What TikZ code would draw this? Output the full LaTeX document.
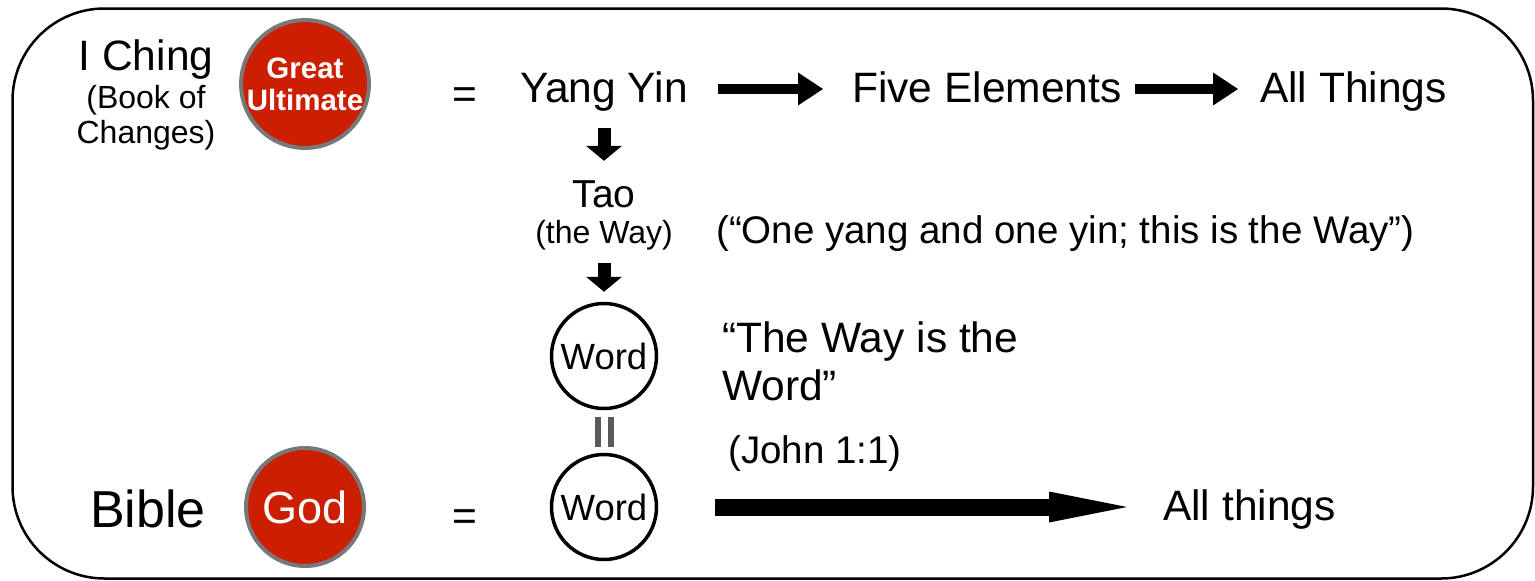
\documentclass[tikz,border=0pt]{standalone}
\usepackage{fontspec}
\setmainfont{Liberation Sans}
\usetikzlibrary{arrows.meta}
\definecolor{ballred}{RGB}{204,30,0}
\definecolor{ballrim}{RGB}{120,120,120}
\definecolor{eqgray}{RGB}{90,90,90}
\begin{document}
\begin{tikzpicture}[x=1pt,y=-1pt,
  big/.style={inner sep=0pt, anchor=base, text height=31pt, text depth=5pt, font=\fontsize{42.5}{50}\selectfont},
  mid/.style={inner sep=0pt, anchor=base, font=\fontsize{38.5}{46}\selectfont},
  small/.style={inner sep=0pt, anchor=base, text depth=8pt, font=\fontsize{32}{38}\selectfont},
  ball/.style={circle, fill=ballred, draw=ballrim, line width=4pt, minimum size=118pt, inner sep=0pt, text=white},
  wordc/.style={circle, draw=black, line width=3.5pt, minimum size=105pt, inner sep=0pt, font=\fontsize{36.5}{44}\selectfont},
  fatH/.style={line width=10pt, -{Triangle[length=25pt,width=33pt,line width=0pt]}},
  fatV/.style={line width=13pt, -{Triangle[length=15pt,width=36pt,line width=0pt]}},
  longA/.style={line width=17pt, -{Triangle[length=78pt,width=31pt,line width=0pt]}},
  eqbar/.style={draw=eqgray, line width=6pt, double=white, double distance=7pt}
]
\useasboundingbox (0,0) rectangle (1535,581);
\draw[line width=2.5pt, rounded corners=92pt] (12.5,8.5) rectangle (1533,578.5);

% top row
\node[big] (iching) at (146,70) {I Ching};
\node[small, text depth=0pt] (book) at (146,108) {(Book of};
\node[small, text depth=0pt] (changes) at (146,143) {Changes)};
\node[ball, align=center, font=\bfseries\fontsize{29.5}{32}\selectfont] (gu) at (305,84) {Great\\Ultimate};
\node[big, text height=0pt, text depth=0pt] (eq1) at (465,108) {=};
\node[big] (yy) at (604,102) {Yang Yin};
\node[big, anchor=base west] (fe) at (852,102) {Five Elements};
\node[big, anchor=base west] (at) at (1260,102) {All Things};

\draw[fatH, shorten <=30pt, shorten >=29pt] (yy.east) -- (fe.west);
\draw[fatH, shorten <=13pt, shorten >=22pt] (fe.east) -- (at.west);

% Tao column
\node[big, font=\fontsize{39}{46}\selectfont] (tao) at (604,207) {Tao};
\node[small] (way) at (604,243) {(the Way)};
\node[mid, anchor=base west] (oneyang) at (716,243) {(“One yang and one yin; this is the Way”)};

\node[wordc] (w1) at (604,356) {Word};
\node[wordc] (w2) at (604,507) {Word};

\draw[fatV, shorten <=21pt, shorten >=15pt] (yy.south) -- (tao.north);
\draw[fatV, shorten <=12pt, shorten >=10pt] (way.south) -- (w1.north);
\draw[eqbar, shorten <=7pt, shorten >=6pt] (w1.south) -- (w2.north);

\node[big, anchor=base west] (wayis1) at (722,352) {“The Way is the};
\node[big, anchor=base west] (wayis2) at (722,400) {Word”};
\node[mid, anchor=base west] (john) at (728,463) {(John 1:1)};

% bottom row
\node[big, font=\fontsize{52}{60}\selectfont] (bible) at (148,527) {Bible};
\node[ball, font=\fontsize{45}{52}\selectfont] (god) at (305,507) {God};
\node[big, text height=0pt, text depth=0pt] (eq2) at (465,530) {=};
\node[big, anchor=base west] (allth) at (1163,520) {All things};

\draw[longA, shorten <=57pt, shorten >=36pt] (w2.east) -- (allth.west);
\end{tikzpicture}
\end{document}
